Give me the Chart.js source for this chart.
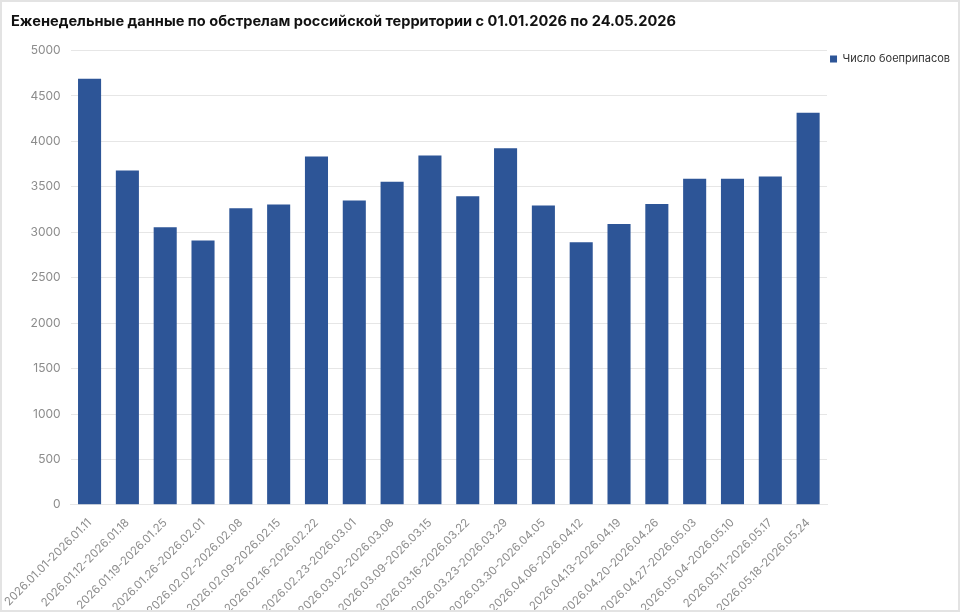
<!DOCTYPE html>
<html lang="ru">
<head>
<meta charset="utf-8">
<title>Обстрелы</title>
<script src="https://cdn.jsdelivr.net/npm/chart.js@4.4.1/dist/chart.umd.min.js"></script>
<style>
  html, body { margin: 0; padding: 0; background: #fff; }
  #wrap {
    position: absolute; left: 0; top: 0;
    width: 960px; height: 612px;
    box-sizing: border-box;
    border: 2px solid #e3e3e3;
  }
  #grafico { display: block; }
</style>
</head>
<body>
<div id="wrap"><canvas id="grafico" width="956" height="608"></canvas></div>
<script>
// Недели (категории)
const semanas = [
    '2026.01.01-2026.01.11', '2026.01.12-2026.01.18', '2026.01.19-2026.01.25',
    '2026.01.26-2026.02.01', '2026.02.02-2026.02.08', '2026.02.09-2026.02.15',
    '2026.02.16-2026.02.22', '2026.02.23-2026.03.01', '2026.03.02-2026.03.08',
    '2026.03.09-2026.03.15', '2026.03.16-2026.03.22', '2026.03.23-2026.03.29',
    '2026.03.30-2026.04.05', '2026.04.06-2026.04.12', '2026.04.13-2026.04.19',
    '2026.04.20-2026.04.26', '2026.04.27-2026.05.03', '2026.05.04-2026.05.10',
    '2026.05.11-2026.05.17', '2026.05.18-2026.05.24'
];

// Число боеприпасов за неделю
const boepripasy = [
    4690, 3680, 3055, 2910, 3265, 3305, 3835, 3350, 3555, 3845,
    3395, 3925, 3295, 2890, 3090, 3310, 3590, 3590, 3615, 4315
];

// Ось Y
const ejeYMax = 5000;
const ejeYPaso = 500;

const tituloTexto = 'Еженедельные данные по обстрелам российской территории с 01.01.2026 по 24.05.2026';
const serieNombre = 'Число боеприпасов';

const ctx = document.getElementById('grafico').getContext('2d');

new Chart(ctx, {
    type: 'bar',
    data: {
        labels: semanas,
        datasets: [{
            label: serieNombre,
            data: boepripasy,
            backgroundColor: '#2d5597',
            borderWidth: 0,
            categoryPercentage: 0.61,
            barPercentage: 1.0
        }]
    },
    options: {
        responsive: false,
        animation: false,
        layout: {
            padding: { left: 9, right: -2, top: 0, bottom: -11 }
        },
        plugins: {
            title: {
                display: true,
                text: tituloTexto,
                align: 'start',
                color: '#111',
                font: { family: 'Inter', size: 14.6, weight: 'bold' },
                padding: { top: 11, bottom: 20 }
            },
            legend: {
                position: 'right',
                align: 'start',
                fullSize: false,
                labels: {
                    boxWidth: 7,
                    boxHeight: 7,
                    padding: 3,
                    color: '#333',
                    font: { family: 'Inter', size: 11 }
                }
            },
            tooltip: { enabled: false }
        },
        scales: {
            y: {
                beginAtZero: true,
                max: ejeYMax,
                border: { display: false },
                grid: { color: '#e6e6e6', drawTicks: false },
                ticks: {
                    stepSize: ejeYPaso,
                    padding: 10,
                    color: '#8c8c8c',
                    font: { family: 'Inter', size: 12 },
                    callback: (v) => String(v)
                }
            },
            x: {
                border: { color: '#e6e6e6' },
                grid: { display: false },
                ticks: {
                    minRotation: 45,
                    maxRotation: 45,
                    autoSkip: false,
                    color: '#8c8c8c',
                    font: { family: 'Inter', size: 11.5 }
                }
            }
        }
    }
});
</script>
</body>
</html>
